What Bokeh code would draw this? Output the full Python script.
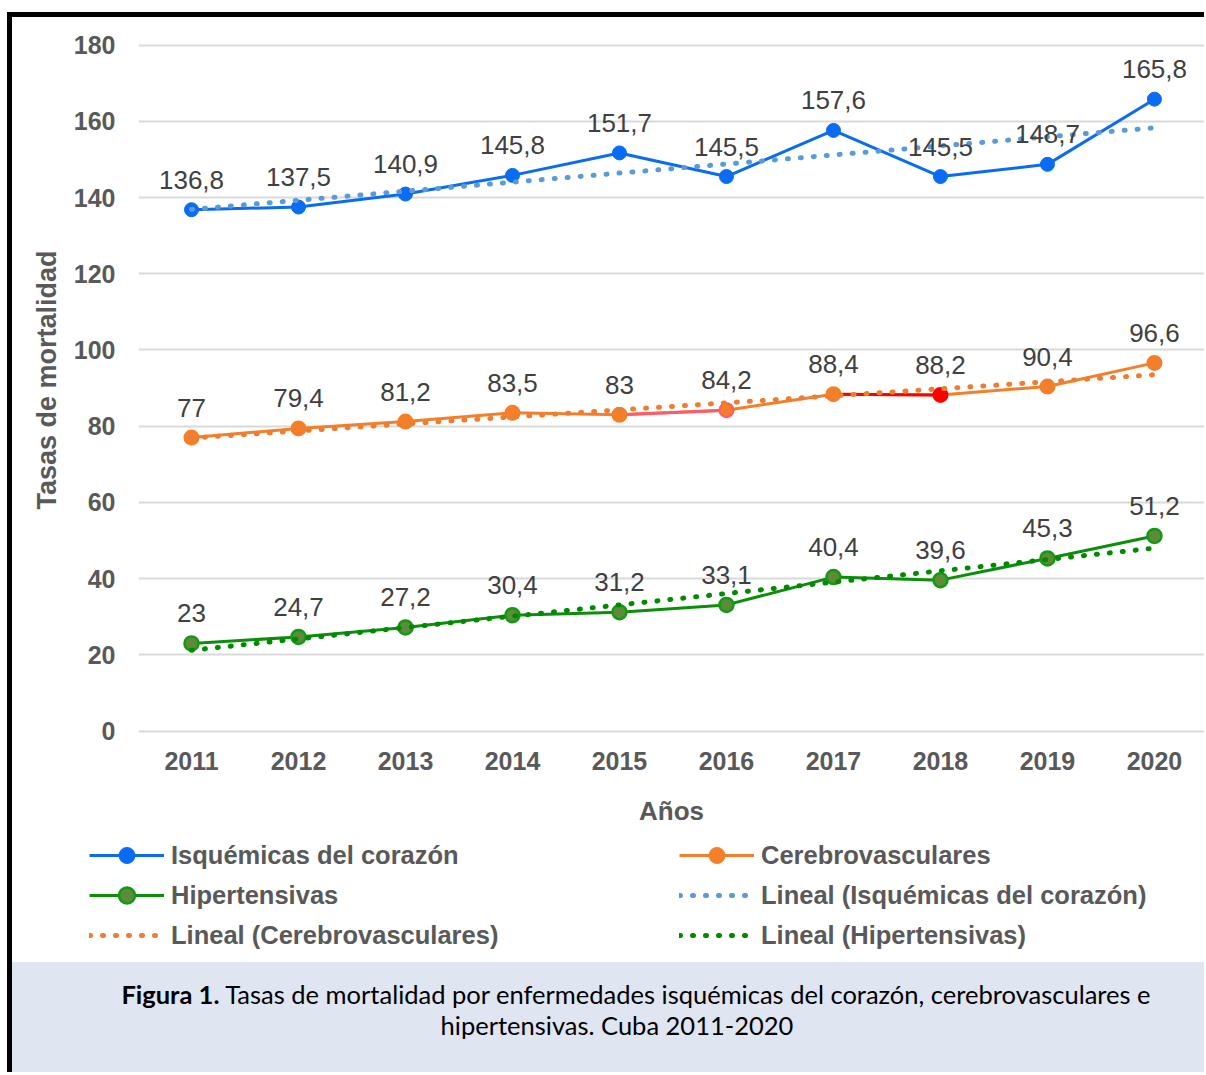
from bokeh.plotting import figure
from bokeh.models import (Range1d, FixedTicker, Legend, LegendItem, ColumnDataSource, Div)
from bokeh.layouts import column
from bokeh.embed import file_html
from bokeh.resources import INLINE

# ---- data ----
years = [2011, 2012, 2013, 2014, 2015, 2016, 2017, 2018, 2019, 2020]
year_labels = ["2011", "2012", "2013", "2014", "2015", "2016", "2017", "2018", "2019", "2020"]
isquemicas = [136.8, 137.5, 140.9, 145.8, 151.7, 145.5, 157.6, 145.5, 148.7, 165.8]
cerebro = [77, 79.4, 81.2, 83.5, 83, 84.2, 88.4, 88.2, 90.4, 96.6]
hipert = [23, 24.7, 27.2, 30.4, 31.2, 33.1, 40.4, 39.6, 45.3, 51.2]
isq_labels = ["136,8", "137,5", "140,9", "145,8", "151,7", "145,5", "157,6", "145,5", "148,7", "165,8"]
cer_labels = ["77", "79,4", "81,2", "83,5", "83", "84,2", "88,4", "88,2", "90,4", "96,6"]
hip_labels = ["23", "24,7", "27,2", "30,4", "31,2", "33,1", "40,4", "39,6", "45,3", "51,2"]
# linear trend lines (values read at 2011 and 2020)
trend_years = [2011, 2020]
isq_trend = [136.9, 158.3]
cer_trend = [76.9, 93.5]
hip_trend = [21.2, 48.0]
# highlighted segments of the cerebrovascular series (segment start index -> colour)
cer_seg_start = [4, 6]
cer_seg_colors = ["#FF5A6E", "#FF0000"]
cer_marker_fill = ["#F47F2A"] * 7 + ["#FF0000"] + ["#F47F2A"] * 2
cer_marker_line = ["#F47F2A"] * 5 + ["#FF5A6E"] + ["#F47F2A"] + ["#FF0000"] + ["#F47F2A"] * 2
y_ticks = [0, 20, 40, 60, 80, 100, 120, 140, 160, 180]
legend_left = ["Isquémicas del corazón", "Hipertensivas", "Lineal (Cerebrovasculares)"]
legend_right = ["Cerebrovasculares", "Lineal (Isquémicas del corazón)", "Lineal (Hipertensivas)"]
caption_line1 = "Tasas de mortalidad por enfermedades isquémicas del corazón, cerebrovasculares e"
caption_line2 = "hipertensivas. Cuba 2011-2020"

BLUE = "#0A6CF2"
ORANGE = "#F47F2A"
GREEN = "#0B8F0B"
GREEN_FILL = "#5E8B3A"
GREEN_EDGE = "#139A13"
T_BLUE = "#5B9BD5"
T_ORANGE = "#ED7D31"
T_GREEN = "#008A00"
FONT = "Liberation Sans"
TXT = "#595959"
DOT = dict(line_width=5, line_dash="1 12", line_cap="round")

# ---------------- chart ----------------
p = figure(width=1192, height=818, output_backend="svg", toolbar_location=None,
           x_range=Range1d(2010.5047, 2020.4677), y_range=Range1d(-3, 187.23),
           min_border_left=126, min_border_right=0, min_border_top=0, min_border_bottom=93)
p.frame_align = False
p.outline_line_color = None
p.background_fill_color = "white"
p.border_fill_color = "white"

p.xgrid.grid_line_color = None
p.ygrid.grid_line_color = "#D9D9D9"
p.ygrid.grid_line_width = 2

for ax in (p.xaxis[0], p.yaxis[0]):
    ax.axis_line_color = None
    ax.major_tick_line_color = None
    ax.minor_tick_line_color = None
    ax.major_label_text_font = FONT
    ax.major_label_text_font_style = "bold"
    ax.major_label_text_font_size = "25px"
    ax.major_label_text_color = TXT
    ax.axis_label_text_font = FONT
    ax.axis_label_text_font_style = "bold"
    ax.axis_label_text_color = TXT

p.xaxis.ticker = FixedTicker(ticks=years)
p.xaxis.major_label_overrides = {y: l for y, l in zip(years, year_labels)}
p.xaxis.major_label_standoff = 3
p.xaxis.axis_label = "Años"
p.xaxis.axis_label_text_font_size = "26px"
p.xaxis.axis_label_standoff = 23

p.yaxis.ticker = FixedTicker(ticks=y_ticks)
p.yaxis.major_label_standoff = 17
p.yaxis.axis_label = "Tasas de mortalidad"
p.yaxis.axis_label_text_font_size = "27px"
p.yaxis.axis_label_standoff = 9

# main series
p.line(years, isquemicas, line_color=BLUE, line_width=3)
p.line(years, cerebro, line_color=ORANGE, line_width=3)
seg_src = ColumnDataSource(dict(
    x0=[years[i] for i in cer_seg_start], x1=[years[i + 1] for i in cer_seg_start],
    y0=[cerebro[i] for i in cer_seg_start], y1=[cerebro[i + 1] for i in cer_seg_start],
    c=cer_seg_colors))
p.segment("x0", "y0", "x1", "y1", source=seg_src, line_color="c", line_width=3)
p.line(years, hipert, line_color=GREEN, line_width=3)

p.scatter(years, isquemicas, size=14, fill_color=BLUE, line_color=BLUE)
cer_src = ColumnDataSource(dict(x=years, y=cerebro, f=cer_marker_fill, l=cer_marker_line))
p.scatter("x", "y", source=cer_src, size=14, fill_color="f", line_color="l", line_width=2)
p.scatter(years, hipert, size=14, fill_color=GREEN_FILL, line_color=GREEN_EDGE, line_width=2.5)

# trend lines
p.line(trend_years, isq_trend, line_color=T_BLUE, **DOT)
p.line(trend_years, cer_trend, line_color=T_ORANGE, **DOT)
p.line(trend_years, hip_trend, line_color=T_GREEN, **DOT)

# data labels
for vals, labs in ((isquemicas, isq_labels), (cerebro, cer_labels), (hipert, hip_labels)):
    src = ColumnDataSource(dict(x=years, y=vals, t=labs))
    p.text("x", "y", text="t", source=src, text_align="center", text_baseline="middle",
           y_offset=-30, text_font_size="26px", text_color="#404040", text_font={"value": FONT})

# ---------------- legend strip ----------------
pl = figure(width=1192, height=127, output_backend="svg", toolbar_location=None,
            x_range=Range1d(0, 1), y_range=Range1d(0, 1),
            min_border_left=0, min_border_right=0, min_border_top=0, min_border_bottom=0,
            x_axis_location=None, y_axis_location=None)
pl.frame_align = False
pl.outline_line_color = None
pl.grid.grid_line_color = None

# legend-only renderers (their single point lies outside the visible range)
hx, hy = [-10], [-10]
l_isq = [pl.line(hx, hy, line_color=BLUE, line_width=3),
         pl.scatter(hx, hy, size=14, fill_color=BLUE, line_color=BLUE)]
l_cer = [pl.line(hx, hy, line_color=ORANGE, line_width=3),
         pl.scatter(hx, hy, size=14, fill_color=ORANGE, line_color=ORANGE)]
l_hip = [pl.line(hx, hy, line_color=GREEN, line_width=3),
         pl.scatter(hx, hy, size=14, fill_color=GREEN_FILL, line_color=GREEN_EDGE, line_width=2.5)]
l_tisq = [pl.line(hx, hy, line_color=T_BLUE, **DOT)]
l_tcer = [pl.line(hx, hy, line_color=T_ORANGE, **DOT)]
l_thip = [pl.line(hx, hy, line_color=T_GREEN, **DOT)]

def make_legend(labels, rends, loc):
    lg = Legend(items=[LegendItem(label=t, renderers=r) for t, r in zip(labels, rends)],
                location=loc, orientation="vertical")
    lg.glyph_width = 75
    lg.glyph_height = 40
    lg.label_standoff = 7
    lg.spacing = 0
    lg.padding = 0
    lg.margin = 0
    lg.border_line_color = None
    lg.background_fill_alpha = 0
    lg.label_text_font = FONT
    lg.label_text_font_style = "bold"
    lg.label_text_font_size = "25.5px"
    lg.label_text_color = TXT
    return lg

pl.add_layout(make_legend(legend_left, [l_isq, l_hip, l_tcer], (77, 7)))
pl.add_layout(make_legend(legend_right, [l_cer, l_tisq, l_thip], (667, 7)))

# ---------------- caption ----------------
caption = Div(
    text=('<div style="padding-left:20px"><b>Figura 1.</b> ' + caption_line1 + '</div>'
          '<div style="padding-right:18px">' + caption_line2 + '</div>'),
    width=1192, height=110, margin=0,
    styles={"background-color": "#DFE5F1", "font-family": "Lato", "font-size": "25.5px",
            "line-height": "31px", "text-align": "center", "color": "#000000",
            "padding-top": "17px", "padding-left": "36px", "box-sizing": "border-box"})

layout = column(p, pl, caption, spacing=0,
                styles={"border-left": "5px solid #000000", "border-top": "5px solid #000000",
                        "margin-top": "12px", "margin-left": "7px"})

open("out.html", "w").write(file_html(layout, INLINE))
